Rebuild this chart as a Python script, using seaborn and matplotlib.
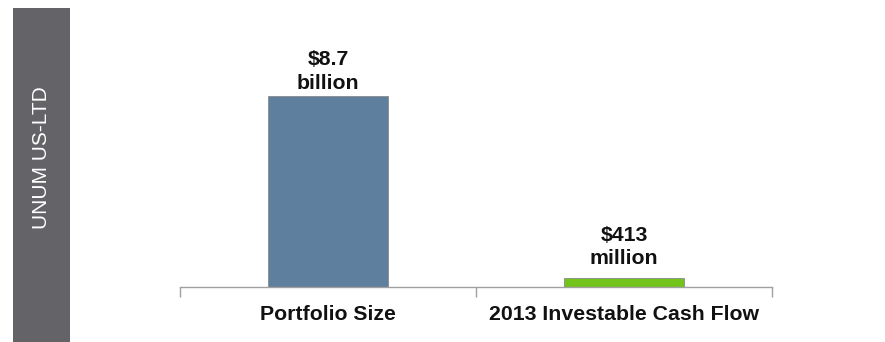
import matplotlib
matplotlib.use("Agg")
import matplotlib.pyplot as plt
import matplotlib.patches as mpatches
import seaborn as sns
import pandas as pd

categories = ["Portfolio Size", "2013 Investable Cash Flow"]
values_bn = [8.7, 0.413]
value_labels = ["$8.7\nbillion", "$413\nmillion"]
bar_colors = ["#5f7f9f", "#72c41a"]
side_label = "UNUM US-LTD"

sns.set_theme(style="white")
plt.rcParams["font.family"] = ["Liberation Sans", "DejaVu Sans"]

df = pd.DataFrame({"category": categories, "value": values_bn})

fig = plt.figure(figsize=(8.85, 3.42), dpi=100)
W, H = 885, 342

# Left side band with rotated caption
band = mpatches.Rectangle((13 / W, 0), 57 / W, 334 / H, transform=fig.transFigure,
                          facecolor="#636368", edgecolor="none")
fig.patches.append(band)
fig.text(41.5 / W, 1 - 158 / H, side_label, rotation=90, color="white",
         fontsize=15, ha="center", va="center")

ax = fig.add_axes([180 / W, 55 / H, 592 / W, 267 / H])
sns.barplot(data=df, x="category", y="value", hue="category", palette=bar_colors,
            saturation=1, width=0.405, ax=ax, legend=False,
            edgecolor="#8a8a8a", linewidth=0.6)

ax.set_xlim(-0.5, 1.5)
ax.set_ylim(0, 8.7 * 267 / 191)

# value labels above each bar (the short bar gets a bit more clearance)
label_offsets_pt = [2.5, 7]
for i, (v, lab) in enumerate(zip(values_bn, value_labels)):
    ax.annotate(lab, xy=(i, v), xytext=(0, label_offsets_pt[i]), textcoords="offset points",
                ha="center", va="bottom", fontsize=15.3, fontweight="bold",
                color="#111111", linespacing=1.3)

for side in ["top", "right", "left"]:
    ax.spines[side].set_visible(False)
ax.spines["bottom"].set_color("#a0a0a0")
ax.spines["bottom"].set_linewidth(1.0)

ax.set_yticks([])
ax.set_xlabel("")
ax.set_ylabel("")
ax.set_xticks([0, 1])
ax.set_xticklabels(categories, fontsize=15.3, fontweight="bold", color="#111111")
ax.tick_params(axis="x", which="major", length=0, pad=13)
ax.set_xticks([-0.5, 0.5, 1.5], minor=True)
ax.tick_params(axis="x", which="minor", length=7, width=1.0, color="#a0a0a0",
               direction="out", bottom=True)

fig.savefig("out.png", dpi=100)
